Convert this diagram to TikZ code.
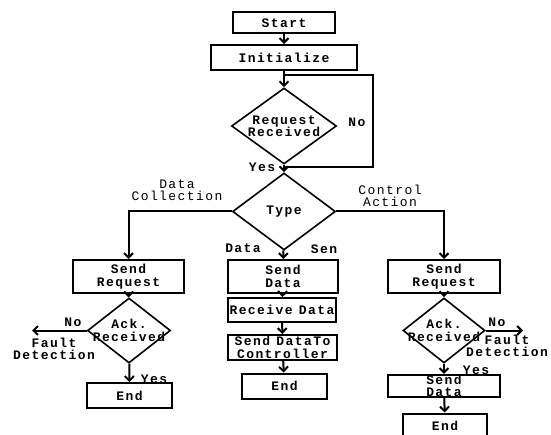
\documentclass[tikz,border=0pt]{standalone}
\usepackage{fontspec}
\usepackage{tikz}
\usetikzlibrary{shapes.geometric, arrows.meta}
\newfontfamily\flowfont[LetterSpace=11]{Liberation Mono}

\begin{document}
\begin{tikzpicture}[x=1pt, y=1pt,
    font=\flowfont\fontsize{13}{12.5}\selectfont,
    box/.style={draw, line width=2pt, inner sep=0pt, align=center, font=\flowfont\bfseries\fontsize{13}{12.5}\selectfont},
    decision/.style={draw, diamond, line width=1.6pt, inner sep=0pt},
    dtext/.style={align=center, font=\flowfont\bfseries\fontsize{13}{12.5}\selectfont},
    lbl/.style={align=center, inner sep=0pt},
    blbl/.style={lbl, font=\flowfont\bfseries\fontsize{13}{12.5}\selectfont},
    flow/.style={line width=2pt, -{Straight Barb[length=4.5pt,width=9pt]}},
    line/.style={line width=2pt}]
    \useasboundingbox (0,0) rectangle (551,-435);
    % top
    \node[box, minimum width=102pt, minimum height=21pt] (start) at (284,-23) {Start};
    \node[box, minimum width=146pt, minimum height=25pt] (init) at (284,-57.5) {Initialize};
    \node[decision, minimum width=105pt, minimum height=76pt] (req) at (284,-126) {};
    \node[dtext] (reqtext) at (req) {Request\\Received};
    \node[decision, minimum width=103pt, minimum height=77pt] (type) at (284,-211.5) {};
    \node[dtext] (typetext) at (type) {Type};
    \draw[flow] (start) -- (init);
    \draw[flow] (init) -- (req);
    \draw[flow] (req) -- (type);
    % no -> back again
    \coordinate (loopin) at (284,-75);
    \coordinate (loopout) at (284,-167);
    \draw[line] (loopin) -- (373,-75) -- (373,-167) -- (loopout);
    \node[blbl] (no0) at (357,-122) {No};
    \node[blbl] (yes0) at (262,-167) {Yes};
    % data collection (left)
    \node[box, minimum width=111pt, minimum height=33pt] (sreqL) at (128.5,-276.5) {Send\\Request};
    \node[decision, minimum width=83pt, minimum height=65pt] (ackL) at (129,-330.5) {};
    \node[dtext] (ackLtext) at (ackL) {Ack.\\Received};
    \node[box, minimum width=85pt, minimum height=25pt] (endL) at (129.5,-395.5) {End};
    \coordinate (faultL) at (32,-330.5);
    \draw[flow] (type.west) -| (sreqL);
    \draw[flow] (sreqL) -- (ackL);
    \draw[flow] (ackL) -- (endL);
    \draw[flow] (ackL.west) -- (faultL);
    \node[lbl] (dcol) at (177,-190) {Data\\Collection};
    \node[blbl] (noL) at (73,-322) {No};
    \node[blbl] (faultLtext) at (54,-349) {Fault\\Detection};
    \node[blbl] (yesL) at (154,-379) {Yes};
    % send data (middle)
    \node[box, minimum width=110pt, minimum height=33pt] (sdata) at (283,-276.5) {Send\\Data};
    \node[box, minimum width=108pt, minimum height=24pt] (recv) at (282,-310) {Receive\hspace{-3pt} Data};
    \node[box, minimum width=109pt, minimum height=25pt] (sdtc) at (282.5,-347.5) {Send\hspace{-3pt} DataTo\\Controller};
    \node[box, minimum width=85pt, minimum height=25pt] (endC) at (284.5,-386) {End};
    \draw[flow] (type) -- (sdata);
    \draw[flow] (sdata) -- (recv);
    \draw[flow] (recv) -- (sdtc);
    \draw[flow] (sdtc) -- (endC);
    \node[blbl] (dlab) at (243,-248) {Data};
    \node[blbl] (slab) at (324,-249) {Sen};
    % control action (right)
    \node[box, minimum width=112pt, minimum height=33pt] (sreqR) at (444,-276.5) {Send\\Request};
    \node[decision, minimum width=82pt, minimum height=65pt] (ackR) at (444,-330.5) {};
    \node[dtext] (ackRtext) at (ackR) {Ack.\\Received};
    \node[box, minimum width=112pt, minimum height=22pt] (sdataR) at (444,-386) {Send\\Data};
    \node[box, minimum width=84pt, minimum height=25pt] (endR) at (445,-426) {End};
    \coordinate (faultR) at (523,-330.5);
    \draw[flow] (type.east) -| (sreqR);
    \draw[flow] (sreqR) -- (ackR);
    \draw[flow] (ackR) -- (sdataR);
    \draw[flow] (sdataR) -- (endR);
    \draw[flow] (ackR.east) -- (faultR);
    \node[lbl] (cact) at (390,-196) {Control\\Action};
    \node[blbl] (noR) at (497,-322) {No};
    \node[blbl] (faultRtext) at (507,-346) {Fault\\Detection};
    \node[blbl] (yesR) at (476,-370) {Yes};
\end{tikzpicture}
\end{document}
